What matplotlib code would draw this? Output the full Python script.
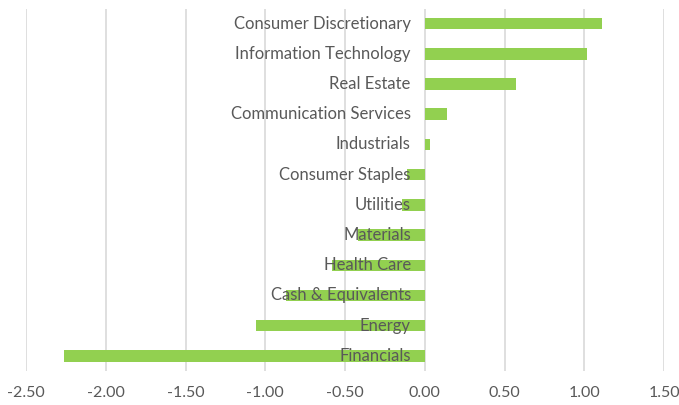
import numpy as np
import matplotlib.pyplot as plt

# sectors, bottom to top
sectors = ['Financials', 'Energy', 'Cash & Equivalents', 'Health Care', 'Materials',
           'Utilities', 'Consumer Staples', 'Industrials', 'Communication Services',
           'Real Estate', 'Information Technology', 'Consumer Discretionary']
values = [-2.26, -1.06, -0.87, -0.58, -0.42, -0.14, -0.11, 0.03, 0.14, 0.57, 1.02, 1.11]
xticks = [-2.5, -2.0, -1.5, -1.0, -0.5, 0.0, 0.5, 1.0, 1.5]

plt.rcParams['font.family'] = ['Lato', 'DejaVu Sans']

fig = plt.figure(figsize=(6.79, 4.05), dpi=100)
ax = fig.add_axes([26 / 679, 34 / 405, 638 / 679, 362.5 / 405])

y = np.arange(len(sectors))
ax.barh(y, values, height=0.38, color='#92D050', zorder=2)

for i, name in enumerate(sectors):
    ax.annotate(name, xy=(0, y[i]), xytext=(-10, 0), textcoords='offset points',
                ha='right', va='center', fontsize=12, color='#595959', zorder=3)

ax.set_xlim(-2.5, 1.5)
ax.set_ylim(-0.5, len(sectors) - 0.5)
ax.set_xticks(xticks)
ax.set_xticklabels(['%.2f' % v for v in xticks], fontsize=11.5, color='#595959')
ax.set_yticks([])
ax.tick_params(axis='x', length=0, pad=11)
ax.grid(axis='x', color='#D9D9D9', linewidth=1.2, zorder=0)
for s in ax.spines.values():
    s.set_visible(False)

fig.savefig('out.png', dpi=100)
